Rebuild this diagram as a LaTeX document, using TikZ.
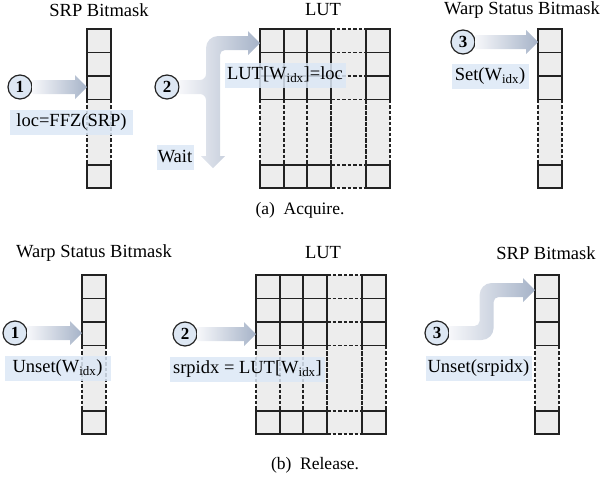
\documentclass[tikz,border=0pt]{standalone}
\usepackage{fontspec}
\setmainfont{Liberation Serif}
\usetikzlibrary{calc}
\definecolor{ink}{HTML}{222222}
\definecolor{cellFill}{HTML}{EDEDED}
\definecolor{labelFill}{HTML}{DCE8F6}
\definecolor{numFill}{HTML}{DDE7F3}
\definecolor{flowLight}{HTML}{F6F7FA}
\definecolor{flowDark}{HTML}{A6B3C8}
\tikzset{
    cell/.style={fill=cellFill},
    cell edge/.style={draw=ink, line width=1.4pt},
    cell gap/.style={draw=ink, line width=1.1pt, dash pattern=on 3.5pt off 2pt},
    flow/.style={left color=flowLight, right color=flowDark},
    stepmark/.style={circle, draw=ink, fill=numFill, line width=1.2pt,
                     minimum size=24pt, inner sep=0pt,
                     font=\fontsize{17}{17}\selectfont\bfseries},
    oplabel/.style={fill=labelFill, fill opacity=0.85, text opacity=1,
                    inner sep=0pt, minimum height=25pt},
    heading/.style={inner sep=0pt},
    caption/.style={inner sep=0pt, font=\fontsize{17.5}{20}\selectfont},
}

% one-column bitmask: name, left, top
\newcommand\bitcolumn[3]{%
  \node[inner sep=0pt, minimum width=24pt, minimum height=159pt,
        anchor=north west] (#1) at (#2,#3) {};
  \fill[cell] (#2,#3) rectangle (#2+24,#3+159);
  \draw[cell gap] (#2,#3+70.5) -- (#2,#3+136) (#2+24,#3+70.5) -- (#2+24,#3+136);
  \foreach \ya/\yb in {0/23.5,23.5/47,47/70.5,136/159}
    \draw[cell edge] (#2,#3+\ya) rectangle (#2+24,#3+\yb);
}

% lookup table grid: name, left, top
\newcommand\lutgrid[3]{%
  \node[inner sep=0pt, minimum width=130pt, minimum height=159pt,
        anchor=north west] (#1) at (#2,#3) {};
  \fill[cell] (#2,#3) rectangle (#2+130,#3+159);
  \foreach \yy in {0,23.5,47,70.5,136,159}
    \draw[cell gap] (#2+71,#3+\yy) -- (#2+106,#3+\yy);
  \foreach \xx in {0,24,47,71,106,130}
    \draw[cell gap] (#2+\xx,#3+70.5) -- (#2+\xx,#3+136);
  \draw[cell gap] (#2+71,#3) -- (#2+71,#3+159) (#2+106,#3) -- (#2+106,#3+159);
  \foreach \xa/\xb in {0/24,24/47,47/71,106/130}
    \foreach \ya/\yb in {0/23.5,23.5/47,47/70.5,136/159}
      \draw[cell edge] (#2+\xa,#3+\ya) rectangle (#2+\xb,#3+\yb);
}

% straight shaded arrow from one anchor to another
\newcommand\flowarrow[2]{%
  \path[flow] let \p1=(#1), \p2=(#2) in
    (\x1,\y1+7pt) -- (\x2-12pt,\y1+7pt) -- (\x2-12pt,\y1+12pt) -- (\x2,\y1)
    -- (\x2-12pt,\y1-12pt) -- (\x2-12pt,\y1-7pt) -- (\x1,\y1-7pt) -- cycle;
}

\begin{document}
\begin{tikzpicture}[x=1pt, y=-1pt, font=\fontsize{18.5}{21}\selectfont]
\useasboundingbox (0,0) rectangle (603,480);

% --- acquire ---
\node[heading] (srpAt) at (99,10) {SRP Bitmask};
\node[heading] (lutAt) at (323,10) {LUT};
\node[heading] (warpAt) at (522,10) {Warp Status Bitmask};

\bitcolumn{srpA}{87}{29}
\lutgrid{lutA}{260}{29}
\bitcolumn{warpA}{538}{29}

\node[stepmark] (a1) at (20,87) {1};
\node[stepmark] (a2) at (167,87) {2};
\node[stepmark] (a3) at (463,42) {3};
\coordinate (waitTip) at (213,168);

\flowarrow{a1.east}{srpA.west |- a1}
\flowarrow{a3.east}{warpA.west |- a3}

% step 2 forks: up into the table, down to wait
\path[flow] let \p1=(a2.east), \p2=(lutA.north west), \p3=(waitTip) in
  (\x1,\y1+7pt) [rounded corners=6pt] -- (\x3-7pt,\y1+7pt)
  [rounded corners=12pt] -- (\x3-7pt,\y2-7pt) [sharp corners]
  -- (\x2-12pt,\y2-7pt) -- (\x2-12pt,\y2-2pt) -- (\x2,\y2-14pt)
  -- (\x2-12pt,\y2-26pt) -- (\x2-12pt,\y2-21pt)
  [rounded corners=5pt] -- (\x3+7pt,\y2-21pt) [sharp corners]
  -- (\x3+7pt,\y3+12pt) -- (\x3+12pt,\y3+12pt) -- (\x3,\y3)
  -- (\x3-12pt,\y3+12pt) -- (\x3-7pt,\y3+12pt)
  [rounded corners=6pt] -- (\x3-7pt,\y1-7pt) [sharp corners]
  -- (\x1,\y1-7pt) -- cycle;

\node[oplabel, minimum width=123pt] (locA) at (71.5,122.5) {loc=FFZ(SRP)};
\node[oplabel, minimum width=37pt] (waitA) at (175,157) {Wait};
\node[oplabel, minimum width=121pt] (lutSetA) at (285,75) {LUT[W\textsubscript{idx}]=loc};
\node[oplabel, minimum width=77pt] (setA) at (490,76) {Set(W\textsubscript{idx})};

\node[caption] (capA) at (300,210) {(a)\enspace Acquire.};

% --- release ---
\node[heading] (warpBt) at (94,253) {Warp Status Bitmask};
\node[heading] (lutBt) at (323,253) {LUT};
\node[heading] (srpBt) at (546,253) {SRP Bitmask};

\bitcolumn{warpB}{82}{275}
\lutgrid{lutB}{256}{275}
\bitcolumn{srpB}{535}{275}

\node[stepmark] (b1) at (15,333) {1};
\node[stepmark] (b2) at (185,334) {2};
\node[stepmark] (b3) at (437,333) {3};

\flowarrow{b1.east}{warpB.west |- b1}
\flowarrow{b2.east}{lutB.west |- b2}

% step 3 climbs to the top slot of the SRP bitmask
\path[flow] let \p1=(b3.east), \p2=(srpB.north west) in
  (\x1,\y1+7pt) [rounded corners=5pt] -- (\x1+30pt,\y1+7pt)
  [rounded corners=12pt] -- (\x1+30pt,\y2-8pt) [sharp corners]
  -- (\x2-12pt,\y2-8pt) -- (\x2-12pt,\y2-3pt) -- (\x2,\y2-15pt)
  -- (\x2-12pt,\y2-27pt) -- (\x2-12pt,\y2-22pt)
  [rounded corners=5pt] -- (\x1+44pt,\y2-22pt)
  [rounded corners=12pt] -- (\x1+44pt,\y1-7pt) [sharp corners]
  -- (\x1,\y1-7pt) -- cycle;

\node[oplabel, minimum width=106pt] (unsetB) at (57.5,368) {Unset(W\textsubscript{idx})};
\node[oplabel, minimum width=155pt] (lookupB) at (247.5,369) {srpidx = LUT[W\textsubscript{idx}]};
\node[oplabel, minimum width=106pt] (unsetSrpB) at (478.5,368.5) {Unset(srpidx)};

\node[caption] (capB) at (315,465) {(b)\enspace Release.};

\end{tikzpicture}
\end{document}
